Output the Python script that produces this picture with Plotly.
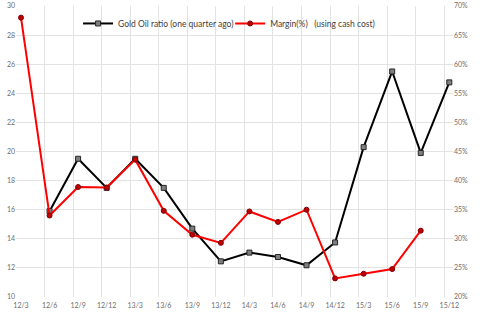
import plotly.graph_objects as go

quarters = ["12/3", "12/6", "12/9", "12/12", "13/3", "13/6", "13/9", "13/12",
            "14/3", "14/6", "14/9", "14/12", "15/3", "15/6", "15/9", "15/12"]
gold_oil_ratio = [None, 15.9, 19.5, 17.5, 19.5, 17.5, 14.7, 12.45,
                  13.05, 12.75, 12.18, 13.75, 20.3, 25.5, 19.9, 24.75]
margin_pct = [68.0, 34.0, 38.9, 38.8, 43.6, 34.8, 30.7, 29.3,
              34.7, 32.9, 35.0, 23.2, 24.0, 24.8, 31.4, None]

left_ticks = list(range(10, 31, 2))
right_ticks = list(range(20, 71, 5))
right_ticktext = [f"{v}%" for v in right_ticks]

idx = list(range(len(quarters)))

fig = go.Figure()
fig.add_trace(go.Scatter(
    x=idx, y=gold_oil_ratio, name="Gold Oil ratio (one quarter ago)",
    mode="lines+markers",
    line=dict(color="black", width=2),
    marker=dict(symbol="square", size=5, color="#7f7f7f", line=dict(color="#262626", width=1)),
    yaxis="y", connectgaps=False, legend="legend",
))
fig.add_trace(go.Scatter(
    x=idx, y=margin_pct, name="Margin(%)   (using cash cost)",
    mode="lines+markers",
    line=dict(color="#ff0000", width=2),
    marker=dict(symbol="circle", size=5, color="#c00000", line=dict(color="#7f0000", width=1)),
    yaxis="y2", legend="legend2",
))

grid = "#e3e3e3"
tickfont = dict(family="Lato, Open Sans, sans-serif", size=7, color="#6e6e6e")
legfont = dict(family="Lato, Open Sans, sans-serif", size=8.5, color="#404040")
fig.update_layout(
    width=480, height=321,
    margin=dict(l=16, r=27, t=6, b=24),
    paper_bgcolor="white", plot_bgcolor="white",
    showlegend=True,
    legend=dict(orientation="h", x=0.142, y=0.94, xanchor="left", yanchor="middle",
                font=legfont, bgcolor="rgba(255,255,255,0)", itemwidth=30),
    legend2=dict(orientation="h", x=0.49, y=0.94, xanchor="left", yanchor="middle",
                 font=legfont, bgcolor="rgba(255,255,255,0)", itemwidth=30),
    xaxis=dict(
        range=[-0.175, 15.13], tickvals=idx, ticktext=quarters,
        showgrid=False, zeroline=False, showline=False,
        tickfont=tickfont, ticks="", ticklen=0, ticklabelstandoff=3,
        minor=dict(tick0=-0.175, dtick=1, showgrid=True, gridcolor=grid, gridwidth=1, ticks=""),
    ),
    yaxis=dict(
        range=[10, 30], tickvals=left_ticks, showgrid=True, gridcolor=grid, gridwidth=1,
        zeroline=False, tickfont=tickfont, ticks="", ticklen=2, automargin=False,
    ),
    yaxis2=dict(
        range=[20, 70], tickvals=right_ticks, ticktext=right_ticktext,
        overlaying="y", side="right", showgrid=False, zeroline=False,
        tickfont=tickfont, ticks="", automargin=False,
    ),
)
fig.write_html("out.html")
